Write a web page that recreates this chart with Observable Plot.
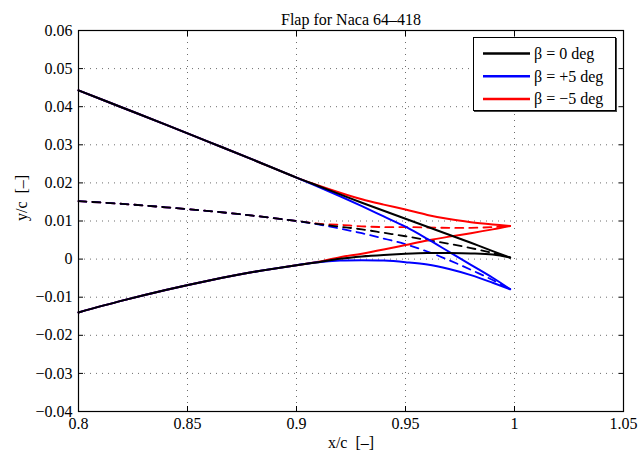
<!DOCTYPE html>
<html>
<head>
<meta charset="utf-8">
<script src="https://cdn.jsdelivr.net/npm/d3@7"></script>
<script src="https://cdn.jsdelivr.net/npm/@observablehq/plot@0.6"></script>
<style>
  html, body { margin: 0; padding: 0; background: #fff; }
  #wrap { position: relative; width: 638px; height: 456px; font-family: "Liberation Serif", "Times New Roman", serif; }
  #wrap svg text { font-family: "Liberation Serif", "Times New Roman", serif !important; font-variant: normal !important; }
  #legend { position: absolute; left: 473px; top: 37px; width: 141px; height: 72px; border: 1px solid #000; background: #fff; box-shadow: 1px 1px 0 #444; }
</style>
</head>
<body>
<div id="wrap"></div>
<script>
// ---- data ----
const title = "Flap for Naca 64\u2013418";
const xLabel = "x/c\u00a0\u00a0[\u2013]";
const yLabel = "y/c\u00a0\u00a0[\u2013]";

const xTicks = [0.8, 0.85, 0.9, 0.95, 1, 1.05];
const xTickLabels = ["0.8", "0.85", "0.9", "0.95", "1", "1.05"];
const yTicks = [0.06, 0.05, 0.04, 0.03, 0.02, 0.01, 0, -0.01, -0.02, -0.03, -0.04];
const yTickLabels = ["0.06", "0.05", "0.04", "0.03", "0.02", "0.01", "0", "\u22120.01", "\u22120.02", "\u22120.03", "\u22120.04"];

const seriesNames = ["\u03b2 = 0 deg", "\u03b2 = +5 deg", "\u03b2 = \u22125 deg"];
const seriesColors = ["#000000", "#0000ff", "#ff0000"];

// shared forward part (x/c 0.80 .. 0.90)
const xCommon = [0.80, 0.82, 0.84, 0.86, 0.88, 0.90];
const upperCommon = [0.0443, 0.0398, 0.0353, 0.0307, 0.0261, 0.0214];
const lowerCommon = [-0.0140, -0.0109, -0.0081, -0.0056, -0.0034, -0.0016];
const camberCommon = [0.0152, 0.0145, 0.0136, 0.0126, 0.0114, 0.0100];

// flap part (x/c 0.91 .. trailing edge)
const xFlap = [0.91, 0.92, 0.93, 0.94, 0.95, 0.96, 0.97, 0.98, 0.99, 0.998];
const upper0 = [0.0192, 0.0170, 0.0148, 0.0127, 0.0106, 0.0085, 0.0064, 0.0043, 0.0021, 0.0004];
const lower0 = [-0.0008, 0.0001, 0.0007, 0.0011, 0.0014, 0.0016, 0.0016, 0.0015, 0.0012, 0.0004];
const camber0 = [0.0092, 0.0085, 0.0078, 0.0069, 0.0060, 0.0050, 0.0040, 0.0029, 0.0016, 0.0004];

const upperP5 = [0.0190, 0.0165, 0.0139, 0.0112, 0.0085, 0.0053, 0.0019, -0.0015, -0.0049, -0.0079];
const lowerP5 = [-0.0008, -0.0004, -0.0003, -0.0004, -0.0008, -0.0014, -0.0026, -0.0042, -0.0062, -0.0079];
const camberP5 = [0.0091, 0.0080, 0.0068, 0.0054, 0.0039, 0.0020, -0.0003, -0.0028, -0.0055, -0.0079];

const upperM5 = [0.0193, 0.0174, 0.0157, 0.0143, 0.0130, 0.0116, 0.0105, 0.0097, 0.0091, 0.0087];
const lowerM5 = [-0.0007, 0.0005, 0.0014, 0.0025, 0.0037, 0.0049, 0.0059, 0.0068, 0.0078, 0.0087];
const camberM5 = [0.0093, 0.0090, 0.0086, 0.0084, 0.0084, 0.0083, 0.0082, 0.0082, 0.0084, 0.0087];

// ---- build tables ----
const flapSets = [
  {upper: upper0, lower: lower0, camber: camber0},
  {upper: upperP5, lower: lowerP5, camber: camberP5},
  {upper: upperM5, lower: lowerM5, camber: camberM5}
];
function curve(common, flap) {
  const pts = xCommon.map((x, i) => ({x, y: common[i]}));
  return pts.concat(xFlap.map((x, i) => ({x, y: flap[i]})));
}

const drawOrder = [2, 1, 0]; // red, blue, black on top
const marks = [
  Plot.gridX(xTicks, {stroke: "#333", strokeOpacity: 0.9, strokeWidth: 0.8, strokeDasharray: "1,5"}),
  Plot.gridY(yTicks, {stroke: "#333", strokeOpacity: 0.9, strokeWidth: 0.8, strokeDasharray: "1,5"})
];
for (const k of drawOrder) {
  const s = flapSets[k];
  marks.push(Plot.line(curve(camberCommon, s.camber), {x: "x", y: "y", stroke: seriesColors[k], strokeWidth: 1.8, strokeDasharray: "8,6", curve: "catmull-rom"}));
}
for (const k of drawOrder) {
  const s = flapSets[k];
  marks.push(Plot.line(curve(upperCommon, s.upper), {x: "x", y: "y", stroke: seriesColors[k], strokeWidth: 2, curve: "catmull-rom"}));
  marks.push(Plot.line(curve(lowerCommon, s.lower), {x: "x", y: "y", stroke: seriesColors[k], strokeWidth: 2, curve: "catmull-rom"}));
}
marks.push(
  Plot.frame({stroke: "#000", strokeWidth: 1.2}),
  Plot.axisX(xTicks, {anchor: "bottom", tickSize: -5, tickPadding: 11, tickFormat: (d, i) => xTickLabels[i], label: null, fontSize: 16}),
  Plot.axisX(xTicks, {anchor: "top", tickSize: -5, tickFormat: () => "", label: null}),
  Plot.axisY(yTicks, {anchor: "left", tickSize: -5, tickPadding: 11, tickFormat: (d, i) => yTickLabels[i], label: null, fontSize: 16}),
  Plot.axisY(yTicks, {anchor: "right", tickSize: -5, tickFormat: () => "", label: null}),
  Plot.text([title], {frameAnchor: "top", dy: -17, fontSize: 16}),
  Plot.text([xLabel], {frameAnchor: "bottom", dy: 36, fontSize: 16}),
  Plot.text([yLabel], {frameAnchor: "left", dx: -57, rotate: -90, fontSize: 16})
);

const chart = Plot.plot({
  width: 638,
  height: 456,
  marginLeft: 78,
  marginRight: 15,
  marginTop: 30,
  marginBottom: 45,
  style: {fontFamily: "Liberation Serif", fontSize: "16px", background: "#fff", color: "#000"},
  x: {domain: [0.8, 1.05]},
  y: {domain: [-0.04, 0.06]},
  marks
});
const wrap = document.getElementById("wrap");
wrap.appendChild(chart);

// ---- legend ----
const legend = document.createElement("div");
legend.id = "legend";
const ns = "http://www.w3.org/2000/svg";
const lsvg = document.createElementNS(ns, "svg");
lsvg.setAttribute("width", 141);
lsvg.setAttribute("height", 72);
lsvg.style.display = "block";
seriesNames.forEach((name, i) => {
  const cy = 15.5 + i * 22.7;
  const ln = document.createElementNS(ns, "line");
  ln.setAttribute("x1", 9); ln.setAttribute("x2", 56);
  ln.setAttribute("y1", cy); ln.setAttribute("y2", cy);
  ln.setAttribute("stroke", seriesColors[i]); ln.setAttribute("stroke-width", 2.5);
  lsvg.appendChild(ln);
  const tx = document.createElementNS(ns, "text");
  tx.setAttribute("x", 60); tx.setAttribute("y", cy + 5.5);
  tx.setAttribute("font-family", "Liberation Serif");
  tx.setAttribute("font-size", 16);
  tx.textContent = name;
  lsvg.appendChild(tx);
});
legend.appendChild(lsvg);
wrap.appendChild(legend);
</script>
</body>
</html>
